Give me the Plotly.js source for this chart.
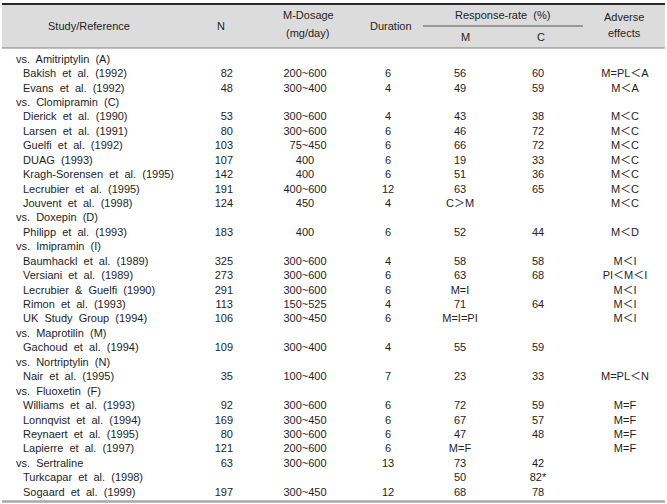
<!DOCTYPE html>
<html>
<head>
<meta charset="utf-8">
<script src="https://cdn.plot.ly/plotly-3.0.1.min.js"></script>
<style>html,body{margin:0;padding:0;background:#fff;}#chart{width:667px;height:504px;}</style>
</head>
<body>
<div id="chart"></div>
<script>
// ---- table data ----
var studies = [
  "vs.  Amitriptylin  (A)", "Bakish  et  al.  (1992)", "Evans  et  al.  (1992)",
  "vs.  Clomipramin  (C)", "Dierick  et  al.  (1990)", "Larsen  et  al.  (1991)", "Guelfi  et  al.  (1992)",
  "DUAG  (1993)", "Kragh-Sorensen  et  al.  (1995)", "Lecrubier  et  al.  (1995)", "Jouvent  et  al.  (1998)",
  "vs.  Doxepin  (D)", "Philipp  et  al.  (1993)",
  "vs.  Imipramin  (I)", "Baumhackl  et  al.  (1989)", "Versiani  et  al.  (1989)", "Lecrubier  &  Guelfi  (1990)",
  "Rimon  et  al.  (1993)", "UK  Study  Group  (1994)",
  "vs.  Maprotilin  (M)", "Gachoud  et  al.  (1994)",
  "vs.  Nortriptylin  (N)", "Nair  et  al.  (1995)",
  "vs.  Fluoxetin  (F)", "Williams  et  al.  (1993)", "Lonnqvist  et  al.  (1994)", "Reynaert  et  al.  (1995)", "Lapierre  et  al.  (1997)",
  "vs.  Sertraline", "Turkcapar  et  al.  (1998)", "Sogaard  et  al.  (1999)"
];
var nPatients = ["", "82", "48", "", "53", "80", "103", "107", "142", "191", "124", "", "183", "",
  "325", "273", "291", "113", "106", "", "109", "", "35", "", "92", "169", "80", "121", "63", "", "197"];
var dosage = ["", "200~600", "300~400", "", "300~600", "300~600", "\u200775~450", "400", "400", "400~600", "450", "",
  "400", "", "300~600", "300~600", "300~600", "150~525", "300~450", "", "300~400", "", "100~400", "",
  "300~600", "300~450", "300~600", "200~600", "300~600", "", "300~450"];
var duration = ["", "6", "4", "", "4", "6", "6", "6", "6", "12", "4", "", "6", "", "4", "6", "6", "4", "6", "",
  "4", "", "7", "", "6", "6", "6", "6", "13", "", "12"];
var responseM = ["", "56", "49", "", "43", "46", "66", "19", "51", "63", "C\uFF1EM", "", "52", "",
  "58", "63", "M=I", "71", "M=I=PI", "", "55", "", "23", "", "72", "67", "47", "M=F", "73", "50", "68"];
var responseC = ["", "60", "59", "", "38", "72", "72", "33", "36", "65", "", "", "44", "",
  "58", "68", "", "64", "", "", "59", "", "33", "", "59", "57", "48", "", "42", "82*", "78"];
var adverse = ["", "M=PL\uFF1CA", "M\uFF1CA", "", "M\uFF1CC", "M\uFF1CC", "M\uFF1CC", "M\uFF1CC", "M\uFF1CC", "M\uFF1CC", "M\uFF1CC", "",
  "M\uFF1CD", "", "M\uFF1CI", "PI\uFF1CM\uFF1CI", "M\uFF1CI", "M\uFF1CI", "M\uFF1CI", "", "", "", "M=PL\uFF1CN", "",
  "M=F", "M=F", "M=F", "M=F", "", "", ""];
var headerTexts = ["Study/Reference", "N", "M-Dosage", "(mg/day)", "Duration", "Response-rate  (%)", "M", "C", "Adverse", "effects"];

// ---- rendering ----
var FONT = "'Liberation Sans', Arial, 'Noto Sans CJK JP', sans-serif";
var COLOR = "#1e1e1e";
var W = 667, H = 504;
var rowTop = 60, rowStep = 14.43;
var rows = studies.map(function (_, i) { return i; });

function py(p) { return 1 - p / H; }

function colTrace(xPos, texts, pos, xs) {
  return {
    type: "scatter", mode: "text",
    x: xs || rows.map(function () { return xPos; }),
    y: rows, text: texts, textposition: pos,
    textfont: { family: FONT, size: 11, color: COLOR },
    hoverinfo: "skip", showlegend: false, cliponaxis: false
  };
}

var studyX = studies.map(function (s) { return s.indexOf("vs.") === 0 ? 16 : 23; });

var traces = [
  colTrace(0, studies, "middle right", studyX),
  colTrace(233, nPatients, "middle left"),
  colTrace(305, dosage, "middle center"),
  colTrace(388, duration, "middle center"),
  colTrace(460, responseM, "middle center"),
  colTrace(538, responseC, "middle center"),
  colTrace(625, adverse, "middle center")
];

var hdr = [
  [89, 26], [221, 26], [308, 15], [307, 33], [391, 26], [502, 15], [465, 37], [541, 37], [624, 17], [624, 33]
];
var annotations = headerTexts.map(function (t, i) {
  return {
    text: t, x: hdr[i][0], xref: "x", y: py(hdr[i][1]), yref: "paper",
    showarrow: false, xanchor: "center", yanchor: "middle",
    font: { family: FONT, size: 11, color: COLOR }
  };
});

var shapes = [
  { type: "rect", xref: "x", yref: "paper", x0: 2, x1: 665, y0: py(48), y1: py(4), fillcolor: "#dcdcdc", line: { width: 0 }, layer: "below" },
  { type: "line", xref: "x", yref: "paper", x0: 2, x1: 665, y0: py(4), y1: py(4), line: { color: "#2a2a2a", width: 2 } },
  { type: "line", xref: "x", yref: "paper", x0: 2, x1: 665, y0: py(48), y1: py(48), line: { color: "#808080", width: 1 } },
  { type: "line", xref: "x", yref: "paper", x0: 423, x1: 583, y0: py(26), y1: py(26), line: { color: "#555555", width: 1 } },
  { type: "line", xref: "x", yref: "paper", x0: 2, x1: 665, y0: py(501.5), y1: py(501.5), line: { color: "#a8a8a8", width: 2.5 } }
];

var layout = {
  width: W, height: H,
  margin: { l: 0, r: 0, t: 0, b: 0, pad: 0 },
  paper_bgcolor: "#ffffff", plot_bgcolor: "#ffffff",
  xaxis: { range: [0, W], visible: false, fixedrange: true },
  yaxis: { range: [(H - rowTop) / rowStep, -rowTop / rowStep], visible: false, fixedrange: true },
  showlegend: false, hovermode: false,
  annotations: annotations, shapes: shapes
};

Plotly.newPlot("chart", traces, layout, { displayModeBar: false, staticPlot: true });
</script>
</body>
</html>
